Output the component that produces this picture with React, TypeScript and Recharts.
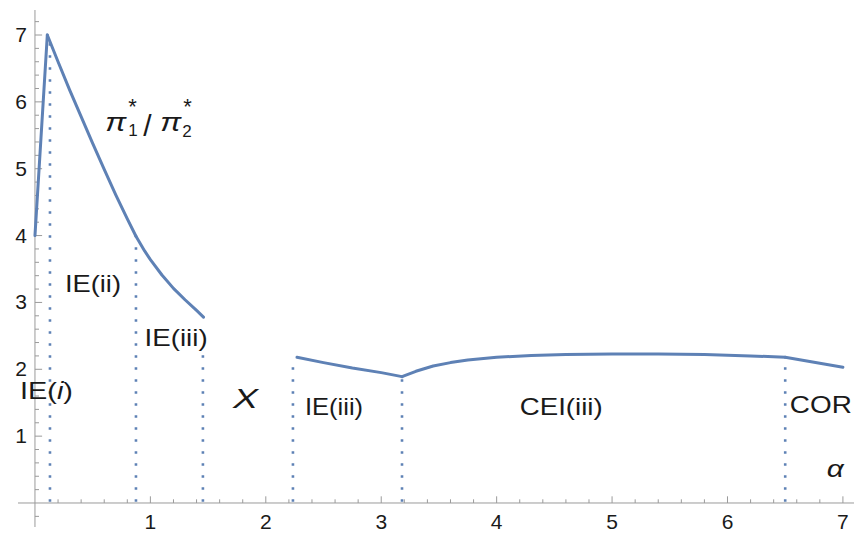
import { LineChart, Line, XAxis, YAxis, ReferenceLine, ReferenceDot } from 'recharts';

// ratio pi1*/pi2* against alpha, piece by piece
const riseIEi = [{ a: 0, r: 4.0 }, { a: 0.107, r: 7.0 }];
const fallIEii = [
  { a: 0.107, r: 7.0 }, { a: 0.2, r: 6.6 }, { a: 0.3, r: 6.18 }, { a: 0.4, r: 5.78 }, { a: 0.5, r: 5.38 },
  { a: 0.6, r: 4.99 }, { a: 0.7, r: 4.61 }, { a: 0.8, r: 4.25 }, { a: 0.875, r: 3.99 },
];
const fallIEiii = [
  { a: 0.875, r: 3.99 }, { a: 0.95, r: 3.77 }, { a: 1.0, r: 3.64 }, { a: 1.1, r: 3.41 }, { a: 1.2, r: 3.21 },
  { a: 1.3, r: 3.04 }, { a: 1.4, r: 2.88 }, { a: 1.46, r: 2.78 },
];
const dipIEiii = [{ a: 2.27, r: 2.18 }, { a: 2.5, r: 2.1 }, { a: 2.75, r: 2.02 }, { a: 3.0, r: 1.95 }, { a: 3.18, r: 1.89 }];
const archCEI = [
  { a: 3.18, r: 1.89 }, { a: 3.3, r: 1.97 }, { a: 3.45, r: 2.05 }, { a: 3.6, r: 2.1 }, { a: 3.75, r: 2.14 },
  { a: 4.0, r: 2.18 }, { a: 4.3, r: 2.205 }, { a: 4.6, r: 2.22 }, { a: 5.0, r: 2.23 }, { a: 5.4, r: 2.23 },
  { a: 5.8, r: 2.22 }, { a: 6.2, r: 2.2 }, { a: 6.5, r: 2.18 },
];
const tailCOR = [{ a: 6.5, r: 2.18 }, { a: 7.0, r: 2.03 }];
const pieces = [riseIEi, fallIEii, fallIEiii, dipIEiii, archCEI, tailCOR];

// regime boundaries (alpha) and how high the dotted line reaches
const borderAlpha = [0.13, 0.875, 1.455, 2.235, 3.18, 6.5];
const borderTop = [6.9, 3.95, 2.24, 2.13, 1.87, 2.15];

const xTicks = [1, 2, 3, 4, 5, 6, 7];
const yTicks = [1, 2, 3, 4, 5, 6, 7];

const regionNames = ['IE(ii)', 'IE(iii)', 'IE(iii)', 'CEI(iii)', 'COR'];
const regionAt = [
  { a: 0.26, r: 3.16 },
  { a: 0.95, r: 2.35 },
  { a: 2.34, r: 1.31 },
  { a: 4.2, r: 1.31 },
  { a: 6.54, r: 1.34 },
];
const regionWidth = [56, 63, 58, 83, 62];

const BLUE = '#5e81b5';
const AXIS = '#9a9a9a';
const INK = '#1a1a1a';
const FONT = '"Liberation Sans", Arial, sans-serif';

const minorX: number[] = [];
for (let i = 1; i <= 35; i++) if (i % 5 !== 0) minorX.push(i / 5);
const minorY: number[] = [];
for (let i = -1; i <= 36; i++) if (i % 5 !== 0) minorY.push(i / 5);

const Word = (p: any) => (
  <text
    x={p.cx + (p.dx || 0)}
    y={p.cy + (p.dy || 0)}
    fontFamily={FONT}
    fontSize={p.size}
    fill={INK}
    textAnchor={p.anchor || 'start'}
    fontStyle={p.italic ? 'italic' : 'normal'}
    textLength={p.width}
    lengthAdjust="spacingAndGlyphs"
  >
    {p.children}
  </text>
);

// pi1*/pi2* as one text, pieces placed with tspans
const RatioLabel = (p: any) => {
  const { cx, cy } = p;
  return (
    <text fontFamily={FONT} fill={INK}>
      <tspan x={cx} y={cy} fontSize={26} fontStyle="italic" textLength={21} lengthAdjust="spacingAndGlyphs">π</tspan>
      <tspan x={cx + 23} y={cy - 17} fontSize={22}>*</tspan>
      <tspan x={cx + 23} y={cy + 5} fontSize={17}>1</tspan>
      <tspan x={cx + 38} y={cy + 5} fontSize={30}>/</tspan>
      <tspan x={cx + 55} y={cy} fontSize={26} fontStyle="italic" textLength={21} lengthAdjust="spacingAndGlyphs">π</tspan>
      <tspan x={cx + 78} y={cy - 17} fontSize={22}>*</tspan>
      <tspan x={cx + 77} y={cy + 6} fontSize={17}>2</tspan>
    </text>
  );
};

export default function App() {
  return (
    <div style={{ position: 'absolute', left: 0, top: 0, background: '#fff' }}>
      <LineChart width={856} height={533} margin={{ top: 10, right: 2, bottom: 6, left: 18 }}>
        <XAxis type="number" dataKey="a" domain={[-0.147, 7.096]} hide allowDataOverflow />
        <YAxis type="number" dataKey="r" domain={[-0.359, 7.374]} hide allowDataOverflow />

        <ReferenceLine x={0} stroke={AXIS} strokeWidth={1} />
        <ReferenceLine y={0} stroke={AXIS} strokeWidth={1} />
        {minorX.map((v) => (
          <ReferenceLine key={'mx' + v} segment={[{ x: v, y: 0 }, { x: v, y: 0.055 }]} stroke={AXIS} />
        ))}
        {xTicks.map((v) => (
          <ReferenceLine key={'Mx' + v} segment={[{ x: v, y: 0 }, { x: v, y: 0.1 }]} stroke={AXIS} />
        ))}
        {minorY.map((v) => (
          <ReferenceLine key={'my' + v} segment={[{ x: 0, y: v }, { x: 0.035, y: v }]} stroke={AXIS} />
        ))}
        {yTicks.map((v) => (
          <ReferenceLine key={'My' + v} segment={[{ x: 0, y: v }, { x: 0.062, y: v }]} stroke={AXIS} />
        ))}
        {xTicks.map((v) => (
          <ReferenceDot key={'lx' + v} x={v} y={0} r={0} shape={(p: any) => <Word {...p} dy={26} size={21} anchor="middle">{v}</Word>} />
        ))}
        {yTicks.map((v) => (
          <ReferenceDot key={'ly' + v} x={0} y={v} r={0} shape={(p: any) => <Word {...p} dx={-8} dy={7} size={21} anchor="end">{v}</Word>} />
        ))}

        {borderAlpha.map((v, i) => (
          <ReferenceLine
            key={'b' + i}
            segment={[{ x: v, y: 0.02 }, { x: v, y: borderTop[i] }]}
            stroke={BLUE}
            strokeWidth={2.6}
            strokeDasharray="2.5 9.5"
          />
        ))}

        {pieces.map((d, i) => (
          <Line
            key={'s' + i}
            data={d}
            dataKey="r"
            type="linear"
            stroke={BLUE}
            strokeWidth={3}
            dot={false}
            activeDot={false}
            isAnimationActive={false}
            strokeLinecap="round"
            strokeLinejoin="round"
          />
        ))}

        <ReferenceDot x={0.61} y={5.56} r={0} shape={(p: any) => <RatioLabel {...p} />} />
        {regionNames.map((n, i) => (
          <ReferenceDot key={'rn' + i} x={regionAt[i].a} y={regionAt[i].r} r={0} shape={(p: any) => <Word {...p} size={24} width={regionWidth[i]}>{n}</Word>} />
        ))}
        <ReferenceDot
          x={-0.13}
          y={1.56}
          r={0}
          shape={(p: any) => (
            <Word {...p} size={24} width={53}>
              <tspan>IE(</tspan>
              <tspan fontStyle="italic">i</tspan>
              <tspan>)</tspan>
            </Word>
          )}
        />
        <ReferenceDot x={1.715} y={1.42} r={0} shape={(p: any) => <Word {...p} size={27} width={25} italic>X</Word>} />
        <ReferenceDot x={6.86} y={0.39} r={0} shape={(p: any) => <Word {...p} size={24} width={17} italic>α</Word>} />
      </LineChart>
    </div>
  );
}
